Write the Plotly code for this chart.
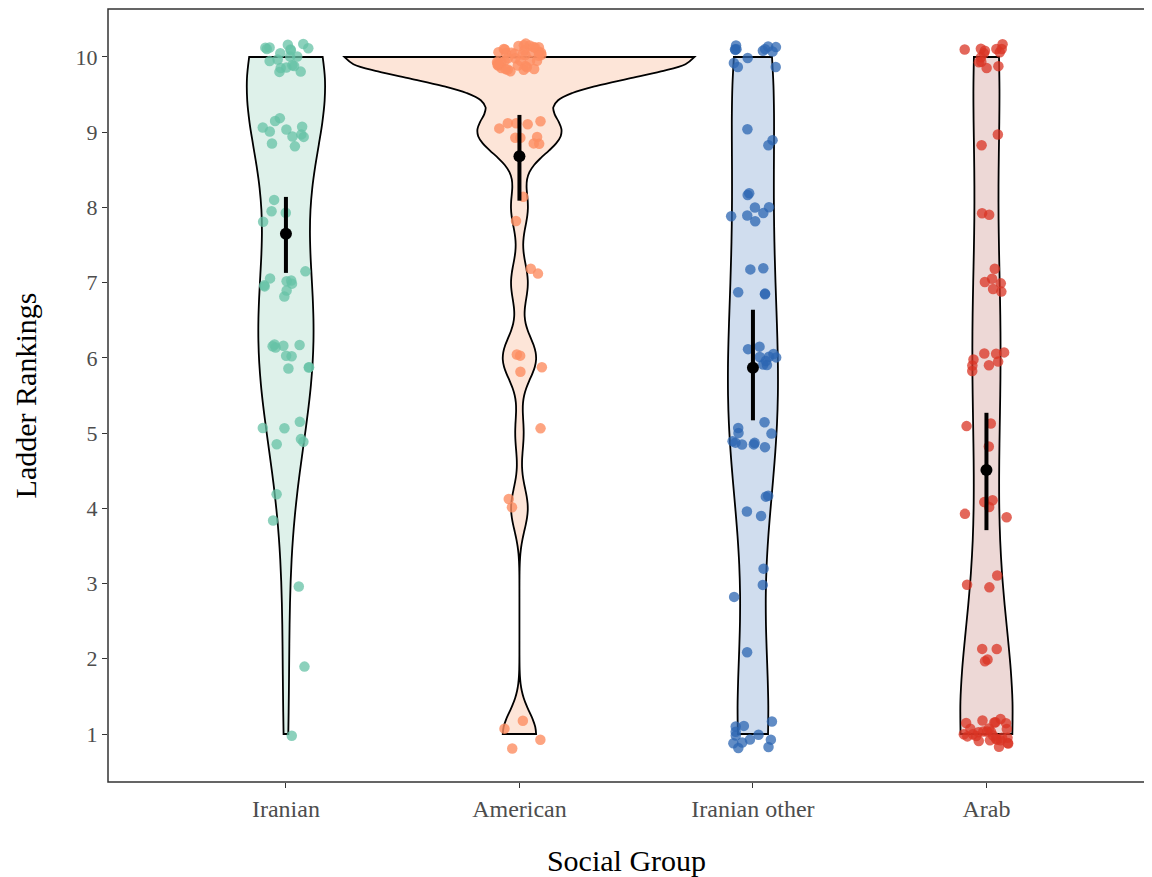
import numpy as np
import plotly.graph_objects as go

# ---- data ----
groups = ["Iranian", "American", "Iranian other", "Arab"]
levels = [1, 2, 3, 4, 5, 6, 7, 8, 9, 10]
iranian_counts = [1, 1, 1, 2, 6, 10, 9, 4, 11, 19]
american_counts = [4, 0, 0, 2, 1, 4, 2, 2, 10, 42]
iranian_other_counts = [12, 1, 3, 4, 10, 9, 5, 8, 3, 13]
arab_counts = [28, 4, 3, 5, 3, 8, 6, 2, 2, 13]

means = [7.65, 8.68, 5.87, 4.51]
ci_low = [7.13, 8.09, 5.17, 3.71]
ci_high = [8.14, 9.23, 6.64, 5.27]

y_ticks = [1, 2, 3, 4, 5, 6, 7, 8, 9, 10]

# ---- styles ----
point_colors = ["rgba(102,194,165,0.75)", "rgba(252,141,98,0.8)",
                "rgba(44,102,178,0.75)", "rgba(218,52,36,0.75)"]
fill_colors = ["#DEF1EA", "#FDE5D8", "#D0DDEE", "#EDD8D6"]
violin_widths = [0.334, 1.50, 0.214, 0.223]

serif = "Liberation Serif, Times New Roman, serif"

counts_all = [iranian_counts, american_counts, iranian_other_counts, arab_counts]


def bw_nrd0(x):
    x = np.asarray(x, float)
    sd = np.std(x, ddof=1)
    q75, q25 = np.percentile(x, [75, 25])
    lo = min(sd, (q75 - q25) / 1.34)
    if lo == 0:
        lo = sd or 1.0
    return 0.9 * lo * len(x) ** (-0.2)


fig = go.Figure()
rng = np.random.default_rng(7)

for i, (g, cnt) in enumerate(zip(groups, counts_all)):
    vals = np.repeat(levels, cnt).astype(float)
    fig.add_trace(go.Violin(
        y=vals, x0=i, name=g,
        width=violin_widths[i], scalemode="width", scalegroup=g,
        spanmode="hard", bandwidth=bw_nrd0(vals),
        fillcolor=fill_colors[i], line=dict(color="black", width=1.8),
        points=False, box_visible=False, meanline_visible=False,
        showlegend=False, hoverinfo="skip", opacity=1,
    ))

for i, (g, cnt) in enumerate(zip(groups, counts_all)):
    vals = np.repeat(levels, cnt).astype(float)
    jx = rng.uniform(-0.1, 0.1, len(vals))
    jy = rng.uniform(-0.2, 0.2, len(vals))
    fig.add_trace(go.Scatter(
        x=i + jx, y=vals + jy, mode="markers",
        marker=dict(size=10.5, color=point_colors[i], line=dict(width=0)),
        showlegend=False, hoverinfo="skip",
    ))

fig.add_trace(go.Scatter(
    x=list(range(len(groups))), y=means, mode="markers",
    marker=dict(size=12, color="black"),
    error_y=dict(type="data", symmetric=False,
                 array=[h - m for h, m in zip(ci_high, means)],
                 arrayminus=[m - l for m, l in zip(means, ci_low)],
                 thickness=4, width=0, color="black"),
    showlegend=False, hoverinfo="skip",
))

fig.update_layout(
    width=1144, height=869,
    paper_bgcolor="white", plot_bgcolor="white",
    margin=dict(l=100, r=7, t=1, b=95, autoexpand=False),
    violinmode="overlay",
    font=dict(family=serif, color="black"),
    showlegend=False,
    shapes=[dict(type="rect", xref="paper", yref="paper", x0=0, x1=1, y0=0, y1=1,
                 line=dict(color="#333333", width=1.5), fillcolor="rgba(0,0,0,0)",
                 layer="above")],
)
fig.update_xaxes(
    range=[-0.762, 3.679], tickmode="array",
    tickvals=list(range(len(groups))), ticktext=groups,
    showgrid=False, zeroline=False, automargin=False, showline=False,
    ticks="outside", ticklen=5, tickwidth=1.2, tickcolor="#333333",
    tickfont=dict(family=serif, size=24, color="#4D4D4D"),
    title=dict(text="Social Group", font=dict(family=serif, size=30, color="black"),
               standoff=30),
)
fig.update_yaxes(
    range=[0.362, 10.638], tickmode="array", tickvals=y_ticks,
    showgrid=False, zeroline=False, automargin=False, showline=False,
    ticks="outside", ticklen=5, tickwidth=1.2, tickcolor="#333333",
    tickfont=dict(family=serif, size=22, color="#4D4D4D"),
    title=dict(text="Ladder Rankings", font=dict(family=serif, size=30, color="black"),
               standoff=30),
)

fig.write_html("out.html")
